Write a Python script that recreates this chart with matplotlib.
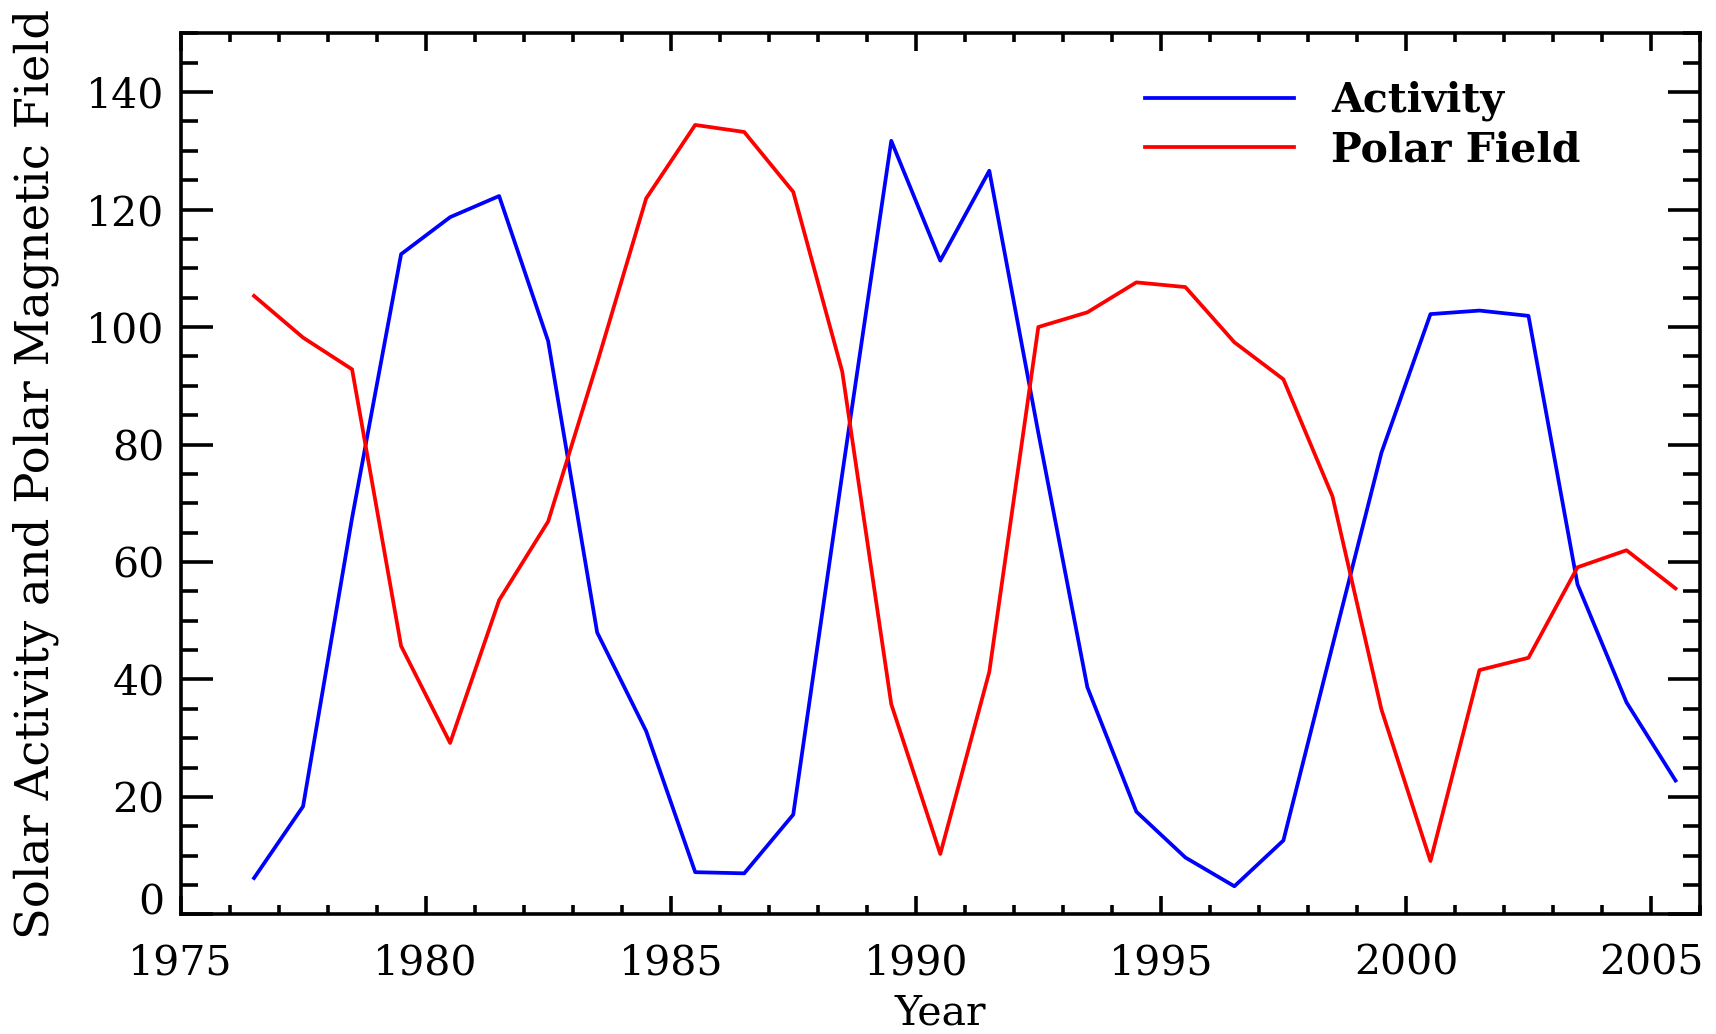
import matplotlib
matplotlib.use('Agg')
import matplotlib.pyplot as plt
from matplotlib.ticker import MultipleLocator

# data (yearly values, plotted at mid-year)
years = [1976.5, 1977.5, 1978.5, 1979.5, 1980.5, 1981.5, 1982.5, 1983.5, 1984.5, 1985.5,
         1986.5, 1987.5, 1988.5, 1989.5, 1990.5, 1991.5, 1992.5, 1993.5, 1994.5, 1995.5,
         1996.5, 1997.5, 1998.5, 1999.5, 2000.5, 2001.5, 2002.5, 2003.5, 2004.5, 2005.5]
activity = [6.2, 18.4, 67.5, 112.4, 118.7, 122.3, 97.6, 48.0, 31.2, 7.2,
            7.0, 17.0, 75.0, 131.7, 111.3, 126.6, 82.0, 38.7, 17.5, 9.7,
            4.8, 12.6, 45.7, 78.6, 102.2, 102.8, 101.9, 56.2, 36.1, 22.8]
polar = [105.3, 98.2, 92.8, 45.7, 29.2, 53.5, 66.9, 93.9, 121.9, 134.4,
         133.2, 123.0, 92.4, 35.8, 10.3, 41.3, 100.0, 102.5, 107.6, 106.8,
         97.4, 91.1, 71.2, 34.9, 9.1, 41.6, 43.7, 59.1, 62.0, 55.5]

x_ticks = [1975, 1980, 1985, 1990, 1995, 2000, 2005]
y_ticks = [0, 20, 40, 60, 80, 100, 120, 140]

plt.rcParams['font.family'] = ['DejaVu Serif']

fig = plt.figure(figsize=(17.16, 10.34), dpi=100)
ax = fig.add_axes([0.1052, 0.1156, 0.8855, 0.8522])

ax.plot(years, activity, color='#0000ff', lw=2.7, label='Activity')
ax.plot(years, polar, color='#ff0000', lw=2.7, label='Polar Field')

ax.set_xlim(1975, 2006)
ax.set_ylim(0, 150)
ax.set_xticks(x_ticks)
ax.set_yticks(y_ticks)
ax.xaxis.set_minor_locator(MultipleLocator(1))
ax.yaxis.set_minor_locator(MultipleLocator(5))

for s in ax.spines.values():
    s.set_linewidth(2.6)

ax.tick_params(which='both', direction='in', top=True, right=True, width=2.6, labelsize=29.5)
ax.tick_params(axis='x', which='major', length=12.7, pad=21)
ax.tick_params(axis='x', which='minor', length=6.6)
ax.tick_params(axis='y', which='major', length=22.9, pad=11.5)
ax.tick_params(axis='y', which='minor', length=11.9)

# IDL lifts the bottom "0" label a little above the axis
ax.get_yticklabels()[0].set_va('baseline')

ax.set_xlabel('Year', fontsize=29.5)
ax.set_ylabel('Solar Activity and Polar Magnetic Field', fontsize=33.5)
ax.xaxis.set_label_coords(0.5, -0.09)
ax.yaxis.set_label_coords(-0.080, 0.5)

ax.legend(loc='upper left', bbox_to_anchor=(0.635, 0.946), frameon=False,
          borderaxespad=0, borderpad=0, handlelength=3.63, handletextpad=0.9,
          labelspacing=0.22, prop={'family': 'DejaVu Serif', 'weight': 'bold', 'size': 29.5})

fig.savefig('out.png', dpi=100)
